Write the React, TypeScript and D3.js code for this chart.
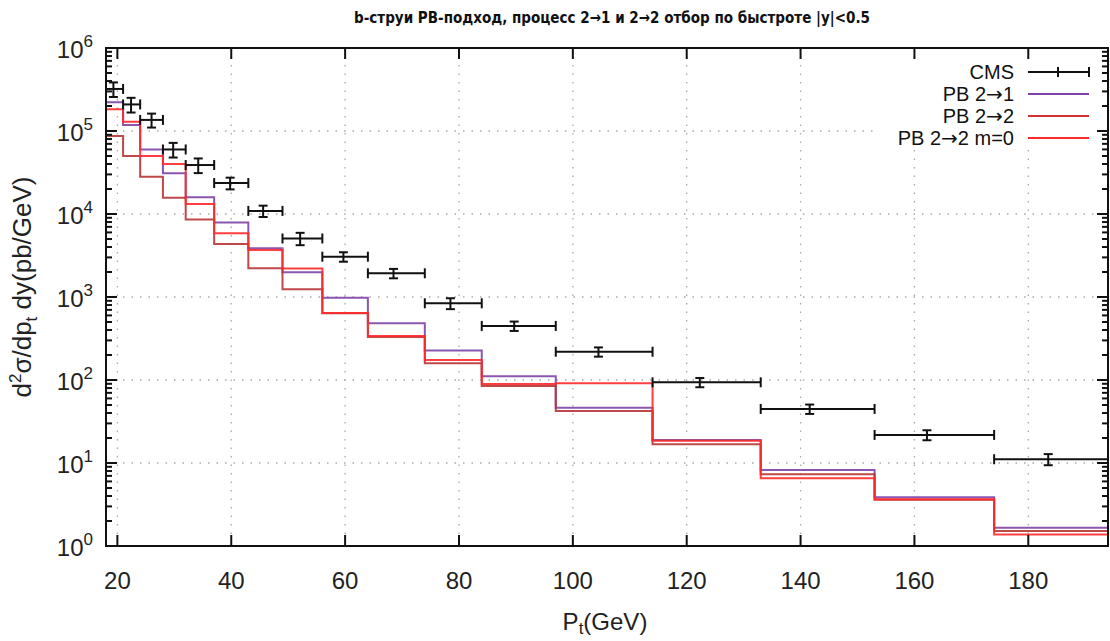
import React from "react";
import * as d3 from "d3";

const titleText = "b-струи PB-подход, процесс 2→1 и 2→2 отбор по быстроте |y|<0.5";
const binEdges = [18, 21, 24, 28, 32, 37, 43, 49, 56, 64, 74, 84, 97, 114, 133, 153, 174, 200];
const cmsPt = [19.3, 22.4, 26.0, 29.8, 34.2, 39.8, 45.6, 52.1, 59.7, 68.5, 78.5, 89.7, 104.5, 122.3, 141.6, 162.2, 183.5];
const cmsValue = [3.21e5, 2.09e5, 1.36e5, 5.99e4, 3.89e4, 2.36e4, 1.09e4, 5.07e3, 3.06e3, 1.93e3, 840, 448, 219, 93.8, 44.8, 21.8, 11.1];
const cmsError = [6.4e4, 4.2e4, 2.6e4, 1.2e4, 7.8e3, 3.8e3, 1.7e3, 860, 400, 250, 126, 58, 28, 12, 5.8, 3.0, 1.7];
const pb21 = [2.22e5, 1.18e5, 6.0e4, 3.1e4, 1.59e4, 7.9e3, 3.86e3, 1.99e3, 981, 482, 227, 111, 46.4, 18.9, 8.24, 3.87, 1.66];
const pb22 = [8.7e4, 5.0e4, 2.81e4, 1.57e4, 8.6e3, 4.35e3, 2.22e3, 1.24e3, 636, 330, 159, 84.7, 42.3, 16.8, 7.31, 3.6, 1.52];
const pb22m0 = [1.83e5, 1.29e5, 5.0e4, 4.0e4, 1.32e4, 5.85e3, 3.68e3, 2.2e3, 641, 339, 174, 89.5, 91.2, 18.6, 6.54, 3.65, 1.38];
const xTicks = [20, 40, 60, 80, 100, 120, 140, 160, 180];
const yExponents = [0, 1, 2, 3, 4, 5, 6];

const legendItems = [
  { label: "CMS", color: "#000000", kind: "err" },
  { label: "PB 2→1", color: "#7e42a8", kind: "line" },
  { label: "PB 2→2", color: "#d03333", kind: "line" },
  { label: "PB 2→2 m=0", color: "#ff2a2a", kind: "line" },
];

const W = 1110;
const H = 641;
const L = 106, R = 1108, T = 48, B = 546;

export default function App() {
  const x = d3.scaleLinear().domain([18, 194]).range([L, R]);
  const y = d3.scaleLog().domain([1, 1e6]).range([B, T]);

  const stepLine = (vals: number[]) => {
    const pts: [number, number][] = vals.map((v, i) => [binEdges[i], v]);
    pts.push([binEdges[vals.length], vals[vals.length - 1]]);
    return d3
      .line<[number, number]>()
      .x((d) => x(d[0]))
      .y((d) => y(d[1]))
      .curve(d3.curveStepAfter)(pts) as string;
  };

  const minorY: number[] = [];
  for (let k = 0; k < 6; k++) {
    for (let m = 2; m <= 9; m++) minorY.push(m * Math.pow(10, k));
  }

  const series = [
    { vals: pb21, color: "#7e42a8" },
    { vals: pb22, color: "#b83434" },
    { vals: pb22m0, color: "#ff2a2a" },
  ];

  const gridStyle = { stroke: "#a8a8a8", strokeWidth: 1.3, strokeDasharray: "1.5 7" };
  const fontMain = "'Liberation Sans', Arial, sans-serif";
  const fontArrow = "'DejaVu Sans', sans-serif";

  const withArrows = (s: string, size?: number) =>
    s.split(/(→)/).map((part, i) =>
      part === "→" ? (
        <tspan key={i} fontFamily={fontArrow} fontSize={size}>
          →
        </tspan>
      ) : (
        <tspan key={i}>{part}</tspan>
      )
    );

  return (
    <svg width={W} height={H} style={{ position: "absolute", left: 0, top: 0, background: "#fff" }}>
      <rect x={0} y={0} width={W} height={H} fill="#fff" />
      <defs>
        <clipPath id="plotclip">
          <rect x={L} y={T} width={R - L} height={B - T} />
        </clipPath>
      </defs>
      {/* Title */}
      <text
        x={612}
        y={23}
        textAnchor="middle"
        fontFamily="'DejaVu Sans', sans-serif"
        fontWeight={600}
        fontSize={16}
        textLength={516}
        lengthAdjust="spacingAndGlyphs"
        fill="#111"
      >
        {titleText}
      </text>

      {/* Grid */}
      {xTicks.map((t) => (
        <line key={"gx" + t} x1={x(t)} x2={x(t)} y1={T} y2={B} style={gridStyle} />
      ))}
      {yExponents.slice(1, -1).map((e) => (
        <line key={"gy" + e} x1={L} x2={R} y1={y(Math.pow(10, e))} y2={y(Math.pow(10, e))} style={gridStyle} />
      ))}

      {/* Histograms */}
      <g clipPath="url(#plotclip)" fill="none" strokeWidth={2}>
        {series.map((s, i) => (
          <path key={i} d={stepLine(s.vals)} stroke={s.color} strokeOpacity={0.9} />
        ))}
      </g>

      {/* CMS data */}
      <g stroke="#111" strokeWidth={2} clipPath="url(#plotclip)">
        {cmsValue.map((v, i) => {
          const cx = x(cmsPt[i]);
          const cy = y(v);
          const x0 = x(binEdges[i]);
          const x1 = x(binEdges[i + 1]);
          const yt = y(v + cmsError[i]);
          const yb = y(v - cmsError[i]);
          return (
            <g key={i}>
              <line x1={x0} x2={x1} y1={cy} y2={cy} />
              <line x1={x0} x2={x0} y1={cy - 5} y2={cy + 5} />
              <line x1={x1} x2={x1} y1={cy - 5} y2={cy + 5} />
              <line x1={cx} x2={cx} y1={yt} y2={yb} />
              <line x1={cx - 4.5} x2={cx + 4.5} y1={yt} y2={yt} />
              <line x1={cx - 4.5} x2={cx + 4.5} y1={yb} y2={yb} />
            </g>
          );
        })}
      </g>

      {/* Legend */}
      <rect x={875} y={60} width={225} height={90} fill="#fff" />
      {legendItems.map((it, i) => {
        const cy = 72 + i * 22;
        return (
          <g key={it.label}>
            <text
              x={1014}
              y={cy + 7}
              textAnchor="end"
              fontFamily={fontMain}
              fontSize={20}
              fill="#111"
            >
              {withArrows(it.label, 20)}
            </text>
            {it.kind === "err" ? (
              <g stroke="#111" strokeWidth={2}>
                <line x1={1028} x2={1089} y1={cy} y2={cy} />
                <line x1={1058} x2={1058} y1={cy - 5} y2={cy + 5} />
                <line x1={1089} x2={1089} y1={cy - 5} y2={cy + 5} />
              </g>
            ) : (
              <line x1={1028} x2={1089} y1={cy} y2={cy} stroke={it.color} strokeWidth={2} />
            )}
          </g>
        );
      })}

      {/* Axes frame and ticks */}
      <g stroke="#111" strokeWidth={2} fill="none">
        <rect x={L} y={T} width={R - L} height={B - T} />
        {xTicks.map((t) => (
          <g key={"tx" + t}>
            <line x1={x(t)} x2={x(t)} y1={B} y2={B - 11} />
            <line x1={x(t)} x2={x(t)} y1={T} y2={T + 11} />
          </g>
        ))}
        {yExponents.map((e) => (
          <g key={"ty" + e}>
            <line x1={L} x2={L + 11} y1={y(Math.pow(10, e))} y2={y(Math.pow(10, e))} />
            <line x1={R} x2={R - 11} y1={y(Math.pow(10, e))} y2={y(Math.pow(10, e))} />
          </g>
        ))}
        {minorY.map((v) => (
          <g key={"my" + v}>
            <line x1={L} x2={L + 6} y1={y(v)} y2={y(v)} />
            <line x1={R} x2={R - 6} y1={y(v)} y2={y(v)} />
          </g>
        ))}
      </g>

      {/* X tick labels */}
      {xTicks.map((t) => (
        <text
          key={"lx" + t}
          x={x(t)}
          y={589}
          textAnchor="middle"
          fontFamily={fontMain}
          fontSize={24}
          fill="#222"
        >
          {t}
        </text>
      ))}

      {/* Y tick labels */}
      {yExponents.map((e) => (
        <text
          key={"ly" + e}
          x={93}
          y={y(Math.pow(10, e)) + 10}
          textAnchor="end"
          fontFamily={fontMain}
          fontSize={24}
          fill="#222"
        >
          <tspan>10</tspan>
          <tspan dy={-11} fontSize={17}>
            {e}
          </tspan>
        </text>
      ))}

      {/* Axis titles */}
      <text x={605} y={630} textAnchor="middle" fontFamily={fontMain} fontSize={24} fill="#222">
        <tspan>P</tspan>
        <tspan dy={4} fontSize={17}>t</tspan>
        <tspan dy={-4}>(GeV)</tspan>
      </text>
      <text
        transform={`translate(31,287) rotate(-90)`}
        textAnchor="middle"
        fontFamily={fontMain}
        fontSize={26}
        fill="#222"
      >
        <tspan>d</tspan>
        <tspan dy={-10} fontSize={17}>2</tspan>
        <tspan dy={10}>σ/dp</tspan>
        <tspan dy={6} fontSize={17}>t</tspan>
        <tspan dy={-6}> dy(pb/GeV)</tspan>
      </text>
    </svg>
  );
}
